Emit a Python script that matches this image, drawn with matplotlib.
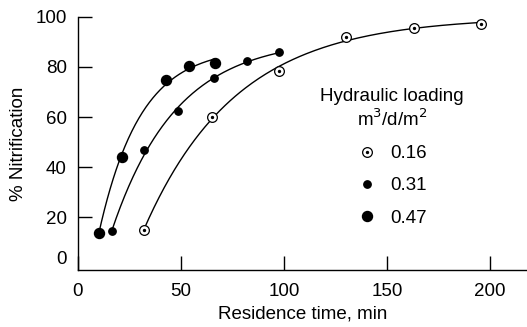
import numpy as np
import matplotlib
matplotlib.use("Agg")
import matplotlib.pyplot as plt
from matplotlib.legend_handler import HandlerTuple
import matplotlib.transforms as mtransforms

plt.rcParams['font.family'] = ['Liberation Sans', 'DejaVu Sans']

# ---------------- Data ----------------
x_016 = [32.0, 65.2, 97.6, 130.2, 163.3, 195.5]
y_016 = [15.1, 60.2, 78.2, 92.0, 95.5, 97.2]

x_031 = [16.5, 32.2, 48.7, 66.2, 82.2, 97.7]
y_031 = [14.4, 46.7, 62.6, 75.4, 82.2, 86.0]

x_047 = [10.0, 21.5, 42.7, 54.0, 66.4]
y_047 = [13.8, 44.2, 74.7, 80.2, 81.6]

loadings = ["0.16", "0.31", "0.47"]
x_ticks = [0, 50, 100, 150, 200]
y_ticks = [0, 20, 40, 60, 80, 100]


def fit_saturation(x, y):
    """Least squares fit of y = A - B*exp(-k x), grid search on k."""
    x = np.asarray(x)
    y = np.asarray(y)
    best = None
    for k in np.linspace(0.002, 0.2, 2000):
        M = np.column_stack([np.ones_like(x), -np.exp(-k * x)])
        coef, res, *_ = np.linalg.lstsq(M, y, rcond=None)
        err = np.sum((M @ coef - y) ** 2)
        if best is None or err < best[0]:
            best = (err, coef, k)
    _, (a, b), k = best
    xs = np.linspace(x.min(), x.max(), 200)
    return xs, a - b * np.exp(-k * xs)


# ---------------- Figure ----------------
fig = plt.figure(figsize=(5.27, 3.27), dpi=100)
ax = fig.add_axes([0.148, 0.174, 0.852, 0.775])

for xs, ys in [(x_016, y_016), (x_031, y_031), (x_047, y_047)]:
    cx, cy = fit_saturation(xs, ys)
    ax.plot(cx, cy, color="black", lw=1.0, zorder=2)

ring = ax.plot(x_016, y_016, "o", ms=7, mfc="white", mec="black", mew=0.9, zorder=3)[0]
dot = ax.plot(x_016, y_016, "o", ms=1.4, color="black", zorder=4)[0]
small = ax.plot(x_031, y_031, "o", ms=5.3, color="black", zorder=3)[0]
big = ax.plot(x_047, y_047, "o", ms=7.2, color="black", zorder=3)[0]

ax.set_xlim(0, 218)
ax.set_ylim(-1, 100)
ax.set_xticks(x_ticks)
ax.set_yticks(y_ticks)
ax.tick_params(direction="in", length=10, width=1, labelsize=13.5, colors="black")
ax.tick_params(axis="x", pad=9)
ax.tick_params(axis="y", pad=8)
for s in ["top", "right"]:
    ax.spines[s].set_visible(False)
for s in ["left", "bottom"]:
    ax.spines[s].set_linewidth(1)

# the 0 label sits a bit above the axis in the reference
lab0 = ax.get_yticklabels()[0]
lab0.set_transform(lab0.get_transform() + mtransforms.ScaledTranslation(0, 0.1, fig.dpi_scale_trans))
ax.yaxis.get_major_ticks()[0].tick1line.set_visible(False)

ax.set_xlabel("Residence time, min", fontsize=13.5, labelpad=4)
ax.set_ylabel("% Nitrification", fontsize=13.5, labelpad=6)

leg = ax.legend([(ring, dot), small, big], loadings,
                handler_map={tuple: HandlerTuple(ndivide=1, pad=0)},
                title="Hydraulic loading\nm$^3$/d/m$^2$", title_fontsize=13.5,
                fontsize=13.5, frameon=False, loc="upper center",
                bbox_to_anchor=(0.70, 0.755), handlelength=1.0,
                handletextpad=0.7, labelspacing=0.8, borderpad=0,
                alignment="center")
leg.get_title().set_multialignment("center")

fig.savefig("out.png", dpi=100)
